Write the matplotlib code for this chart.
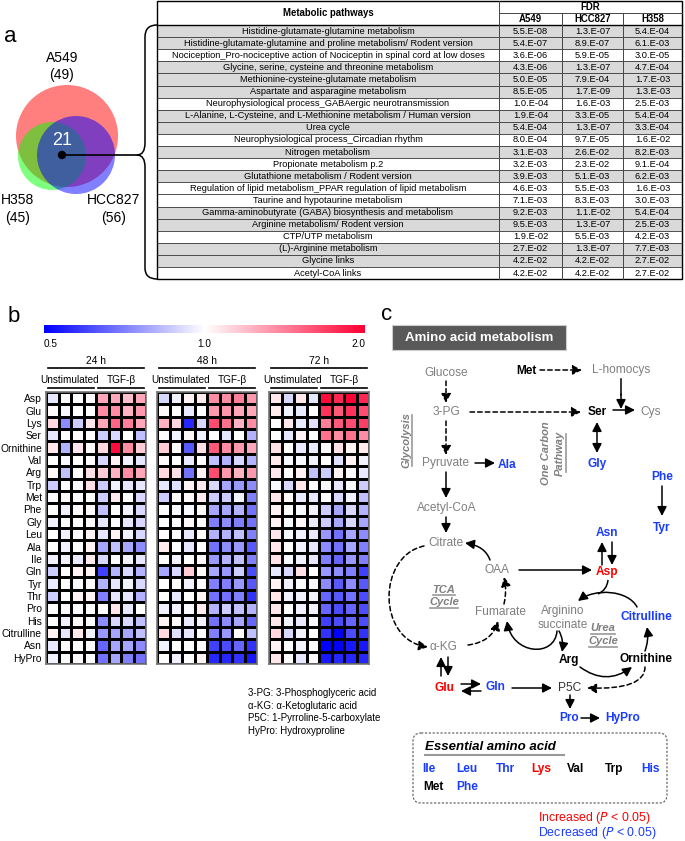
import numpy as np
import matplotlib
matplotlib.use("Agg")
import matplotlib.pyplot as plt
from matplotlib.patches import Circle, Rectangle, FancyArrowPatch, FancyBboxPatch, PathPatch
from matplotlib.path import Path
from matplotlib.colors import LinearSegmentedColormap, Normalize
from matplotlib.cm import ScalarMappable

plt.rcParams["font.family"] = ["Liberation Sans", "DejaVu Sans"]

W, H = 685, 841

# ---------------- panel a: venn + pathway table ----------------
venn_names = ["A549", "H358", "HCC827"]
venn_totals = [49, 45, 56]
venn_common = 21

pathways = [
    "Histidine-glutamate-glutamine metabolism",
    "Histidine-glutamate-glutamine and proline metabolism/ Rodent version",
    "Nociception_Pro-nociceptive action of Nociceptin in spinal cord at low doses",
    "Glycine, serine, cysteine and threonine metabolism",
    "Methionine-cysteine-glutamate metabolism",
    "Aspartate and asparagine metabolism",
    "Neurophysiological process_GABAergic neurotransmission",
    "L-Alanine, L-Cysteine, and L-Methionine metabolism / Human version",
    "Urea cycle",
    "Neurophysiological process_Circadian rhythm",
    "Nitrogen metabolism",
    "Propionate metabolism p.2",
    "Glutathione metabolism / Rodent version",
    "Regulation of lipid metabolism_PPAR regulation of lipid metabolism",
    "Taurine and hypotaurine metabolism",
    "Gamma-aminobutyrate (GABA) biosynthesis and metabolism",
    "Arginine metabolism/ Rodent version",
    "CTP/UTP metabolism",
    "(L)-Arginine metabolism",
    "Glycine links",
    "Acetyl-CoA links",
]
fdr_a549 = ["5.5.E-08", "5.4.E-07", "3.6.E-06", "4.3.E-06", "5.0.E-05", "8.5.E-05", "1.0.E-04",
            "1.9.E-04", "5.4.E-04", "8.0.E-04", "3.1.E-03", "3.2.E-03", "3.9.E-03", "4.6.E-03",
            "7.1.E-03", "9.2.E-03", "9.5.E-03", "1.9.E-02", "2.7.E-02", "4.2.E-02", "4.2.E-02"]
fdr_hcc827 = ["1.3.E-07", "8.9.E-07", "5.9.E-05", "1.3.E-07", "7.9.E-04", "1.7.E-09", "1.6.E-03",
              "3.3.E-05", "1.3.E-07", "9.7.E-05", "2.6.E-02", "2.3.E-02", "5.1.E-03", "5.5.E-03",
              "8.3.E-03", "1.1.E-02", "1.3.E-07", "5.5.E-03", "1.3.E-07", "4.2.E-02", "4.2.E-02"]
fdr_h358 = ["5.4.E-04", "6.1.E-03", "3.0.E-05", "4.7.E-04", "1.7.E-03", "1.3.E-03", "2.5.E-03",
            "5.4.E-04", "3.3.E-04", "1.6.E-02", "8.2.E-03", "9.1.E-04", "6.2.E-03", "1.6.E-03",
            "3.0.E-03", "5.4.E-04", "2.5.E-03", "4.2.E-03", "7.7.E-03", "2.7.E-02", "2.7.E-02"]
shaded = [1, 1, 0, 1, 1, 1, 0, 1, 1, 0, 1, 0, 1, 0, 0, 1, 1, 0, 1, 1, 0]

# ---------------- panel b: heatmap (log2 fold change) ----------------
amino_acids = ["Asp", "Glu", "Lys", "Ser", "Ornithine", "Val", "Arg", "Trp", "Met", "Phe", "Gly",
               "Leu", "Ala", "Ile", "Gln", "Tyr", "Thr", "Pro", "His", "Citrulline", "Asn", "HyPro"]
time_points = ["24 h", "48 h", "72 h"]
groups = ["Unstimulated", "TGF-β"]

log2fc_24h = [
    [-0.10, 0.02, 0.00, 0.02, 0.35, 0.35, 0.25, 0.35],
    [0.02, -0.03, 0.00, 0.00, 0.45, 0.45, 0.30, 0.40],
    [0.15, -0.45, -0.20, 0.10, 0.35, 0.60, 0.50, 0.35],
    [-0.10, 0.00, 0.02, 0.02, -0.20, -0.15, 0.00, -0.25],
    [0.10, -0.30, 0.10, 0.02, 0.15, 0.95, 0.45, 0.20],
    [0.00, -0.03, 0.00, 0.02, -0.15, 0.05, -0.05, -0.10],
    [0.03, -0.25, 0.00, 0.12, 0.20, 0.30, 0.45, 0.35],
    [-0.20, 0.00, -0.02, 0.12, -0.20, -0.05, -0.10, -0.10],
    [-0.02, 0.03, -0.02, 0.00, -0.20, 0.08, 0.00, -0.15],
    [0.00, -0.05, 0.02, 0.02, -0.25, 0.00, -0.05, -0.15],
    [-0.05, 0.00, 0.00, 0.02, -0.10, -0.02, -0.10, -0.15],
    [0.00, -0.05, -0.02, 0.05, -0.10, 0.05, -0.05, -0.15],
    [0.00, -0.05, -0.02, 0.05, -0.35, -0.25, -0.35, -0.45],
    [-0.05, -0.05, -0.08, 0.08, -0.15, -0.02, -0.05, -0.10],
    [-0.20, 0.00, 0.05, 0.05, -0.75, -0.30, -0.15, -0.30],
    [-0.08, 0.00, -0.02, 0.02, -0.30, -0.10, -0.05, -0.15],
    [-0.20, 0.00, 0.05, 0.05, -0.50, -0.10, -0.10, -0.30],
    [0.00, 0.02, -0.02, 0.00, 0.00, 0.10, -0.10, 0.00],
    [0.00, -0.05, 0.03, 0.00, -0.45, -0.15, -0.15, -0.25],
    [0.05, -0.10, 0.08, -0.05, -0.40, -0.35, -0.35, -0.25],
    [-0.08, 0.02, 0.00, 0.02, -0.60, -0.35, -0.35, -0.45],
    [-0.05, 0.00, 0.02, 0.00, -0.55, -0.35, -0.50, -0.55],
]
log2fc_48h = [
    [-0.15, -0.05, 0.05, 0.08, 0.45, 0.45, 0.50, 0.40],
    [0.03, 0.00, -0.08, 0.00, 0.40, 0.40, 0.35, 0.35],
    [0.30, 0.15, -0.85, -0.15, 0.70, 0.55, 0.30, 0.45],
    [0.02, -0.05, 0.03, -0.05, 0.00, -0.10, 0.00, -0.30],
    [0.20, 0.02, -0.65, 0.12, 0.65, 0.45, 0.40, 0.35],
    [0.02, 0.00, -0.08, 0.00, -0.25, -0.30, -0.15, -0.30],
    [0.15, 0.12, -0.55, 0.05, 0.70, 0.40, 0.30, 0.40],
    [-0.10, -0.12, 0.05, 0.08, -0.15, -0.35, -0.40, -0.45],
    [-0.20, 0.02, 0.03, 0.08, -0.20, -0.20, -0.05, -0.50],
    [0.00, -0.03, -0.03, 0.03, -0.35, -0.35, -0.30, -0.55],
    [0.00, -0.02, 0.03, 0.02, -0.50, -0.45, -0.50, -0.55],
    [0.02, 0.00, -0.08, 0.02, -0.30, -0.30, -0.25, -0.50],
    [0.08, 0.00, -0.10, 0.00, -0.55, -0.45, -0.40, -0.65],
    [0.02, -0.05, 0.00, 0.03, -0.40, -0.30, -0.25, -0.50],
    [-0.35, -0.15, 0.20, 0.03, -0.35, -0.40, -0.20, -0.70],
    [0.00, 0.00, -0.05, 0.02, -0.50, -0.50, -0.40, -0.65],
    [0.00, -0.08, 0.00, 0.05, -0.55, -0.55, -0.50, -0.80],
    [-0.05, -0.05, -0.02, 0.08, -0.30, -0.20, -0.25, -0.30],
    [0.05, 0.02, -0.08, -0.05, -0.55, -0.45, -0.35, -0.60],
    [0.15, -0.12, -0.10, 0.00, -0.50, -0.40, 0.00, -0.25],
    [-0.05, 0.00, 0.00, 0.02, -0.75, -0.70, -0.60, -0.80],
    [0.00, -0.05, 0.00, 0.05, -0.85, -0.85, -0.80, -0.90],
]
log2fc_72h = [
    [0.10, -0.15, 0.10, -0.10, 0.95, 0.85, 1.00, 0.85],
    [0.08, -0.05, -0.08, 0.00, 0.80, 0.65, 0.80, 0.70],
    [0.02, 0.10, -0.08, -0.12, 0.50, 0.65, 0.70, 0.75],
    [0.00, -0.10, 0.05, 0.00, 0.55, 0.45, 0.55, 0.45],
    [0.12, 0.00, -0.08, -0.08, 0.02, 0.12, 0.05, 0.08],
    [0.08, -0.03, -0.03, -0.05, 0.00, -0.12, 0.05, -0.05],
    [0.10, 0.00, 0.05, -0.25, -0.20, 0.05, -0.02, -0.08],
    [-0.03, -0.15, 0.10, 0.00, -0.03, -0.10, -0.03, -0.20],
    [0.10, 0.03, -0.08, -0.10, 0.00, -0.15, -0.05, -0.25],
    [0.05, 0.00, -0.03, -0.05, -0.20, -0.35, -0.15, -0.30],
    [0.05, -0.03, 0.03, -0.08, -0.20, -0.35, -0.15, -0.35],
    [0.10, -0.03, -0.05, -0.08, -0.40, -0.55, -0.35, -0.45],
    [0.10, 0.02, -0.05, -0.10, -0.45, -0.55, -0.35, -0.50],
    [0.12, -0.03, -0.05, -0.10, -0.50, -0.60, -0.40, -0.50],
    [-0.10, -0.15, 0.12, 0.00, -0.40, -0.45, -0.50, -0.75],
    [0.05, -0.05, -0.02, -0.03, -0.45, -0.65, -0.45, -0.65],
    [0.10, -0.05, -0.05, -0.05, -0.60, -0.65, -0.55, -0.70],
    [0.10, 0.00, -0.05, -0.05, -0.60, -0.70, -0.60, -0.70],
    [0.10, -0.05, -0.08, -0.03, -0.75, -0.70, -0.60, -0.70],
    [0.15, -0.15, -0.05, 0.00, -0.80, -1.00, -0.70, -0.80],
    [0.05, 0.00, -0.05, 0.00, -1.00, -1.00, -0.90, -0.90],
    [0.10, 0.00, -0.10, 0.02, -0.90, -0.85, -0.85, -0.85],
]

# ---------------- panel c: pathway diagram labels ----------------
legend_lines = ["3-PG: 3-Phosphoglyceric acid", "α-KG: α-Ketoglutaric acid",
                "P5C: 1-Pyrroline-5-carboxylate", "HyPro: Hydroxyproline"]
essential = [("Ile", "b"), ("Leu", "b"), ("Thr", "b"), ("Lys", "r"), ("Val", "k"),
             ("Trp", "k"), ("His", "b"), ("Met", "k"), ("Phe", "b")]

RED = "#ff0000"
BLUE = "#1a3cff"
GRAY = "#7f7f7f"
cmap = LinearSegmentedColormap.from_list("fc", ["#0000ff", "#ffffff", "#ff0033"])


def fig_rect(x0, y0, x1, y1):
    return [x0 / W, 1 - y1 / H, (x1 - x0) / W, (y1 - y0) / H]


fig = plt.figure(figsize=(W / 100, H / 100), dpi=100)
ax = fig.add_axes([0, 0, 1, 1])
ax.set_xlim(0, W)
ax.set_ylim(H, 0)
ax.axis("off")

# ----- panel a -----
ax.text(4, 42, "a", fontsize=16)
for (cx, cy, r), col in zip([(67, 136, 51), (52, 156, 34), (76, 155, 39)],
                            [(1, 0, 0, 0.5), (0, 1, 0, 0.5), (0, 0, 1, 0.5)]):
    ax.add_patch(Circle((cx, cy), r, facecolor=col, edgecolor="none"))
ax.text(62, 58, venn_names[0], ha="center", va="center", fontsize=10)
ax.text(62, 75, f"({venn_totals[0]})", ha="center", va="center", fontsize=10)
ax.text(18, 200, venn_names[1], ha="center", va="center", fontsize=10)
ax.text(18, 218, f"({venn_totals[1]})", ha="center", va="center", fontsize=10)
ax.text(114, 200, venn_names[2], ha="center", va="center", fontsize=10)
ax.text(114, 218, f"({venn_totals[2]})", ha="center", va="center", fontsize=10)
ax.text(62, 140, str(venn_common), ha="center", va="center", fontsize=13, color="white")
ax.add_patch(Circle((62, 155), 3.5, color="k"))
ax.plot([62, 137], [155, 155], color="k", lw=1.2)
brace = Path([(157, 25), (145, 25), (145, 37), (145, 143), (145, 155), (137, 155),
              (145, 155), (145, 167), (145, 268), (145, 279), (157, 279)],
             [Path.MOVETO, Path.CURVE3, Path.CURVE3, Path.LINETO, Path.CURVE3, Path.CURVE3,
              Path.CURVE3, Path.CURVE3, Path.LINETO, Path.CURVE3, Path.CURVE3])
ax.add_patch(PathPatch(brace, facecolor="none", edgecolor="k", lw=1.1))

# table
cols = [157, 499, 562, 623, 682]
top, head, row_h = 1, 25, 12.1
n = len(pathways)
bottom = head + row_h * n
TFS = 6.7
for i in range(n):
    y0 = head + i * row_h
    if shaded[i]:
        ax.add_patch(Rectangle((cols[0], y0), cols[-1] - cols[0], row_h, facecolor="#d9d9d9",
                               edgecolor="none"))
    ax.plot([cols[0], cols[-1]], [y0, y0], color="#333333", lw=0.6)
    yc = y0 + row_h / 2
    ax.text((cols[0] + cols[1]) / 2, yc, pathways[i], ha="center", va="center", fontsize=TFS)
    for j, vals in enumerate([fdr_a549, fdr_hcc827, fdr_h358]):
        ax.text((cols[j + 1] + cols[j + 2]) / 2, yc, vals[i], ha="center", va="center",
                fontsize=TFS)
ax.add_patch(Rectangle((cols[0], top), cols[-1] - cols[0], bottom - top, facecolor="none",
                       edgecolor="k", lw=1.0))
ax.plot([cols[0], cols[-1]], [head, head], color="k", lw=1.0)
for x in cols[1:-1]:
    ax.plot([x, x], [top if x == cols[1] else 12.5, bottom], color="#444444", lw=0.7)
ax.plot([cols[1], cols[-1]], [12.5, 12.5], color="#444444", lw=0.7)
ax.text((cols[0] + cols[1]) / 2, 13, "Metabolic pathways", ha="center", va="center",
        fontsize=6.9, weight="bold")
ax.text((cols[1] + cols[-1]) / 2, 7, "FDR", ha="center", va="center", fontsize=6.9,
        weight="bold")
for j, nm in enumerate(["A549", "HCC827", "H358"]):
    ax.text((cols[j + 1] + cols[j + 2]) / 2, 19, nm, ha="center", va="center", fontsize=6.9,
            weight="bold")

# ----- panel b -----
ax.text(8, 322, "b", fontsize=16)
norm = Normalize(-1, 1)
cax = fig.add_axes(fig_rect(44, 325, 365, 333))
cb = fig.colorbar(ScalarMappable(norm=norm, cmap=cmap), cax=cax, orientation="horizontal")
cb.outline.set_visible(False)
cb.set_ticks([-1, 0, 1])
cb.set_ticklabels(["0.5", "1.0", "2.0"])
cax.tick_params(length=0, labelsize=7.2, pad=4)
labs = cax.get_xticklabels()
labs[0].set_ha("left")
labs[-1].set_ha("right")

blocks = [(46, 146), (157, 257), (269, 369)]
hm_top, hm_bot = 392, 664
for k, (data, tp) in enumerate(zip([log2fc_24h, log2fc_48h, log2fc_72h], time_points)):
    x0, x1 = blocks[k]
    hax = fig.add_axes(fig_rect(x0, hm_top, x1, hm_bot))
    hax.pcolormesh(np.array(data), cmap=cmap, norm=norm, edgecolors="k", linewidth=0.95,
                   snap=True)
    hax.set_ylim(len(amino_acids), 0)
    hax.set_xticks([])
    for s in hax.spines.values():
        s.set_color("#777777")
        s.set_linewidth(1.2)
    if k == 0:
        hax.set_yticks(np.arange(len(amino_acids)) + 0.5)
        hax.set_yticklabels(amino_acids, fontsize=7.4)
        hax.tick_params(axis="y", length=0, pad=3)
    else:
        hax.set_yticks([])
    xm = (x0 + x1) / 2
    ax.text(xm, 361, tp, ha="center", va="center", fontsize=7.4)
    ax.plot([x0 + 2, x1 - 2], [368, 368], color="k", lw=1.2)
    ax.text(x0 + 24, 380, groups[0], ha="center", va="center", fontsize=7.2)
    ax.text(x0 + 75, 380, groups[1], ha="center", va="center", fontsize=7.2)
    ax.plot([x0 + 2, xm - 2], [388, 388], color="k", lw=1.2)
    ax.plot([xm + 2, x1 - 2], [388, 388], color="k", lw=1.2)

for i, line in enumerate(legend_lines):
    ax.text(248, 693 + i * 12.7, line, ha="left", va="center", fontsize=7)

# ----- panel c -----
ax.text(381, 320, "c", fontsize=16)
ax.add_patch(Rectangle((392, 325), 174, 25, facecolor="#595959", edgecolor="#cccccc", lw=0.8))
ax.text(479, 338, "Amino acid metabolism", ha="center", va="center", fontsize=9.5,
        weight="bold", color="white")

FS = 8.6


def node(x, y, s, color=GRAY, bold=False, **kw):
    ax.text(x, y, s, ha="center", va="center", fontsize=FS, color=color,
            weight="bold" if bold else "normal", **kw)


HEAD = "-|>,head_length=0.55,head_width=0.28"


def arrow(p0, p1, dashed=False, style=HEAD):
    ax.add_patch(FancyArrowPatch(p0, p1, arrowstyle=style, mutation_scale=10, lw=1.1,
                                 color="k", linestyle=(0, (3, 2)) if dashed else "-",
                                 shrinkA=0, shrinkB=0))


def curve(pts, dashed=False, head=True):
    codes = [Path.MOVETO] + [Path.CURVE3 if len(pts) == 3 else Path.CURVE4] * (len(pts) - 1)
    if not head:
        ax.add_patch(PathPatch(Path(pts, codes), facecolor="none", edgecolor="k", lw=1.1))
        return
    ax.add_patch(FancyArrowPatch(path=Path(pts, codes), arrowstyle=HEAD, mutation_scale=10,
                                 lw=1.1, color="k",
                                 linestyle=(0, (3, 2)) if dashed else "-"))


node(446, 373, "Glucose")
node(446, 412, "3-PG")
node(446, 463, "Pyruvate")
node(507, 465, "Ala", BLUE, True)
node(526, 371, "Met", "k", True)
node(621, 370, "L-homocys")
node(597, 412, "Ser", "k", True)
node(651, 412, "Cys")
node(597, 464, "Gly", BLUE, True)
node(662, 477, "Phe", BLUE, True)
node(447, 508, "Acetyl-CoA")
node(662, 528, "Tyr", BLUE, True)
node(607, 533, "Asn", BLUE, True)
node(446, 543, "Citrate")
node(497, 570, "OAA")
node(607, 572, "Asp", RED, True)
node(501, 612, "Fumarate")
node(563, 611, "Arginino")
node(563, 625, "succinate")
node(646, 617, "Citrulline", BLUE, True)
node(443, 647, "α-KG")
node(569, 660, "Arg", "k", True)
node(646, 659, "Ornithine", "k", True)
node(444, 688, "Glu", RED, True)
node(495, 687, "Gln", BLUE, True)
node(570, 688, "P5C", "#333333")
node(569, 718, "Pro", BLUE, True)
node(623, 718, "HyPro", BLUE, True)

# italic pathway labels with gray underline
ulab = dict(fontsize=8, color=GRAY, style="italic", weight="bold", ha="center", va="center")
ax.text(406, 440, "Glycolysis", rotation=90, **ulab)
ax.plot([412, 412], [415, 466], color="#999999", lw=1.2)
ax.text(546, 453, "One Carbon", rotation=90, **ulab)
ax.text(560, 453, "Pathway", rotation=90, **ulab)
ax.plot([566, 566], [434, 472], color="#999999", lw=1.2)
ax.text(444, 590, "TCA", **ulab)
ax.text(444, 602, "Cycle", **ulab)
ax.plot([433, 455], [595, 595], color="#999999", lw=1.2)
ax.plot([430, 458], [608, 608], color="#999999", lw=1.2)
ax.text(603, 628, "Urea", **ulab)
ax.text(603, 641, "Cycle", **ulab)
ax.plot([591, 615], [634, 634], color="#999999", lw=1.2)
ax.plot([589, 617], [647, 647], color="#999999", lw=1.2)

# straight arrows
arrow((446, 381), (446, 403), dashed=True)
arrow((446, 421), (446, 455), dashed=True)
arrow((470, 412), (581, 412), dashed=True)
arrow((540, 370), (582, 370), dashed=True)
ax.plot([621, 621], [379, 395], color="k", lw=1.1)
arrow((621, 394), (621, 409))
arrow((613, 410), (635, 410))
arrow((597, 422), (597, 453), style="<|-|>,head_length=0.55,head_width=0.28")
arrow((475, 463), (495, 463))
arrow((446, 472), (446, 498))
arrow((446, 517), (446, 533))
arrow((662, 486), (662, 516))
arrow((519, 570), (592, 570))
arrow((602, 565), (602, 542))
arrow((612, 542), (612, 565))
arrow((441, 676), (441, 657))
arrow((448, 657), (448, 676))
arrow((461, 684), (481, 684))
arrow((481, 691), (461, 691))
arrow((512, 688), (552, 688))
arrow((570, 695), (570, 709))
arrow((581, 718), (600, 718))

# curved arrows
curve([(490, 560), (485, 546), (465, 543)])
curve([(504, 604), (507, 591), (504, 577)], dashed=True)
curve([(468, 645), (492, 642), (498, 621)], dashed=True)
curve([(424, 546), (377, 556), (377, 640), (428, 647)], dashed=True)
curve([(637, 607), (628, 590), (595, 588), (578, 601)])
curve([(608, 580), (607, 590), (598, 594)], head=False)
curve([(559, 631), (564, 640), (562, 652)])
curve([(557, 631), (555, 658), (512, 655), (507, 621)])
curve([(580, 667), (606, 686), (632, 667)])
curve([(645, 651), (649, 640), (647, 627)])
curve([(645, 667), (645, 690), (587, 688)], dashed=True)

# essential amino acids box
ax.add_patch(FancyBboxPatch((413, 733), 254, 70, boxstyle="round,pad=0,rounding_size=8",
                            facecolor="none", edgecolor="#555555", lw=0.8,
                            linestyle=(0, (2, 1.5))))
ax.text(425, 747, "Essential amino acid", ha="left", va="center", fontsize=9.5,
        style="italic", weight="bold")
ax.plot([425, 564], [755, 755], color="#999999", lw=1.5)
ess_x = [429, 467, 505, 541, 576, 614, 651, 433, 467]
ess_y = [769] * 7 + [787] * 2
ess_col = {"b": BLUE, "r": RED, "k": "k"}
for (s, c), x, y in zip(essential, ess_x, ess_y):
    node(x, y, s, ess_col[c], True)

ax.text(538, 818, "Increased ($\\it{P}$ < 0.05)", ha="left", va="center", fontsize=8.9,
        color=RED)
ax.text(538, 833, "Decreased ($\\it{P}$ < 0.05)", ha="left", va="center", fontsize=8.9,
        color=BLUE)

fig.savefig("out.png", dpi=100)
